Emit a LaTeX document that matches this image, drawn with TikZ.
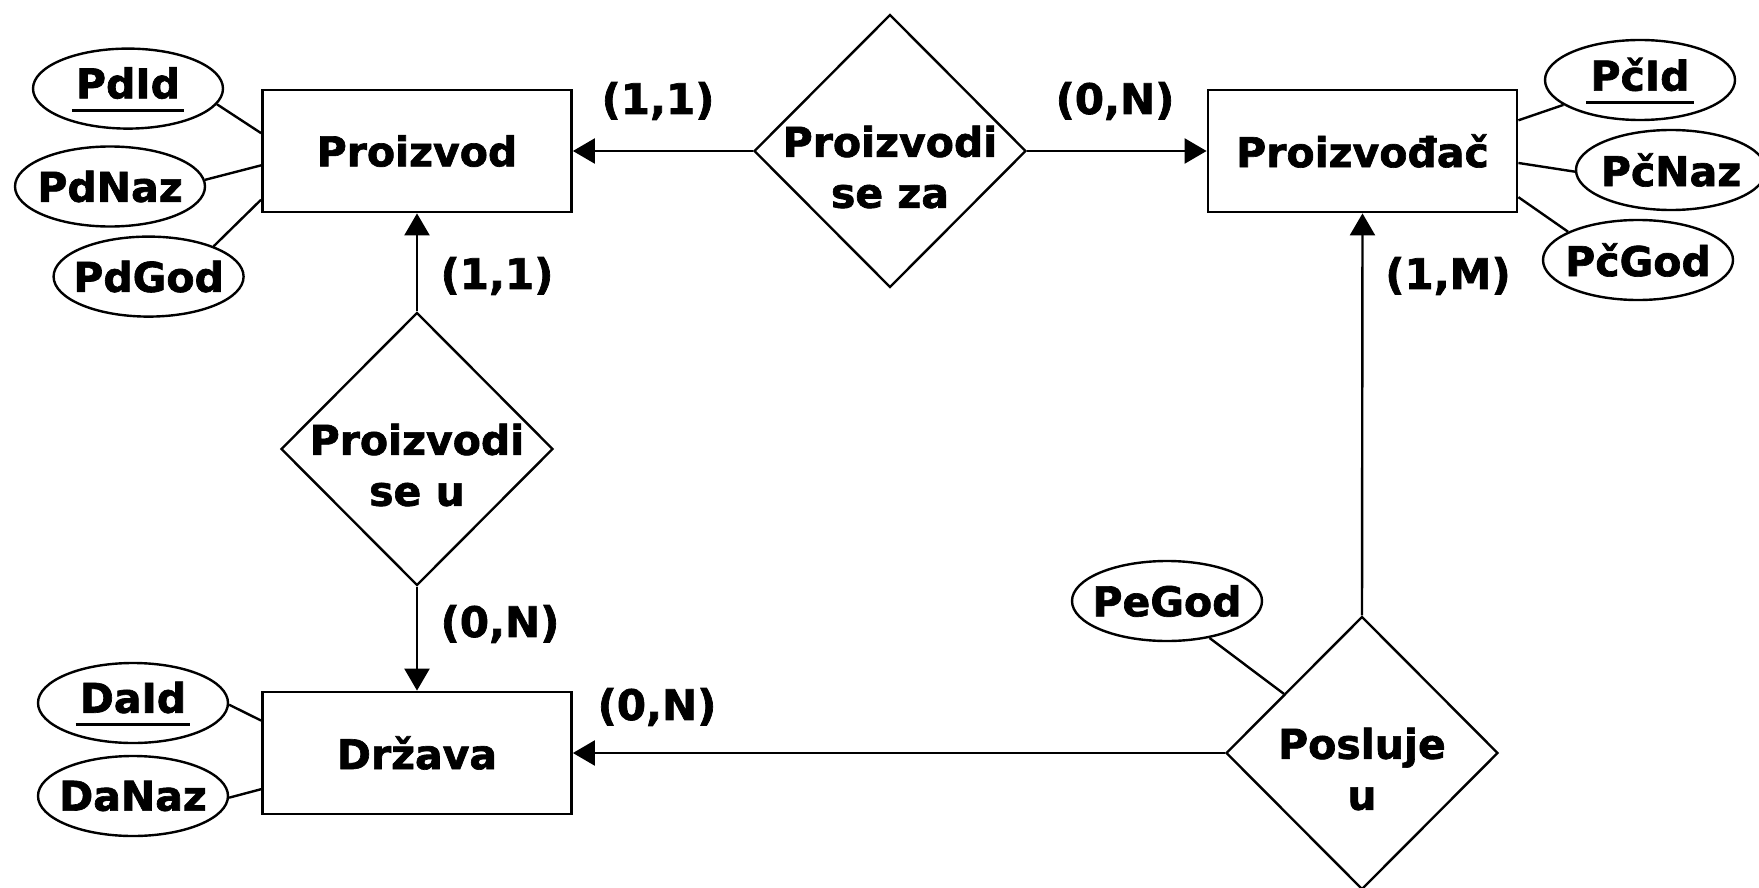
\documentclass[tikz,border=0pt]{standalone}
\usepackage{fontspec}
\setmainfont{DejaVu Sans}[BoldFeatures={FakeBold=1.6}]
\usetikzlibrary{shapes.geometric,arrows.meta,calc}
\begin{document}
\begin{tikzpicture}[x=1pt,y=-1pt,
  ent/.style={draw,line width=2.8pt,rectangle,minimum width=309pt,minimum height=122pt,inner sep=0pt,font=\bfseries\fontsize{41}{50}\selectfont},
  rel/.style={draw,line width=2.4pt,diamond,minimum width=272pt,minimum height=273pt,inner sep=0pt},
  reltxt/.style={align=center,inner sep=0pt,font=\bfseries\fontsize{41}{51}\selectfont,yshift=-16pt},
  attr/.style={draw,line width=2.4pt,ellipse,minimum width=190pt,minimum height=80pt,inner sep=0pt},
  atxt/.style={inner sep=0pt,font=\bfseries\fontsize{41}{50}\selectfont},
  keytxt/.style={atxt,yshift=5.5pt},
  card/.style={inner sep=0pt,font=\bfseries\fontsize{42}{50}\selectfont},
  conn/.style={line width=2.4pt,-{Triangle[length=22pt,width=25pt]}},
  link/.style={line width=2.4pt},
  uline/.style={line width=2.6pt}
]
\useasboundingbox (0,0) rectangle (1759,888);

% entities
\node[ent] (pd) at (417,151) {Proizvod};
\node[ent] (pc) at (1362.5,151) {Proizvođač};
\node[ent] (dr) at (417,753) {Država};

% relationships
\node[rel] (rza) at (890,151) {};
\node[reltxt] (rzat) at (rza) {Proizvodi\\se za};
\node[rel] (ru) at (417,449) {};
\node[reltxt] (rut) at (ru) {Proizvodi\\se u};
\node[rel] (rpu) at (1362,753) {};
\node[reltxt] (rput) at (rpu) {Posluje\\u};

% connectors
\draw[conn] (rza.west) -- (pd.east);
\draw[conn] (rza.east) -- (pc.west);
\draw[conn] (ru.north) -- (pd.south);
\draw[conn] (ru.south) -- (dr.north);
\draw[conn] (rpu.north) -- (pc.south);
\draw[conn] (rpu.west) -- (dr.east);

% cardinalities
\node[card] (c1) at (658,101) {(1,1)};
\node[card] (c2) at (1115,101) {(0,N)};
\node[card] (c3) at (497,276) {(1,1)};
\node[card] (c4) at (1448,276) {(1,M)};
\node[card] (c5) at (500,624) {(0,N)};
\node[card] (c6) at (657,707) {(0,N)};

% attributes of Proizvod
\node[attr] (pdid) at (128,88.6) {};
\node[keytxt] (pdidt) at (pdid) {PdId};
\draw[uline] ($(pdidt.base west)+(-4,12)$) -- ($(pdidt.base east)+(4,12)$);
\node[attr] (pdnaz) at (110,186.5) {};
\node[atxt] (pdnazt) at (pdnaz) {PdNaz};
\node[attr] (pdgod) at (148.6,276.6) {};
\node[atxt] (pdgodt) at (pdgod) {PdGod};
\draw[link] (pdid.-10.7) -- ($(pd.north west)!0.357!(pd.south west)$);
\draw[link] (pdnaz.4.2) -- ($(pd.north west)!0.615!(pd.south west)$);
\draw[link] (pdgod.25.6) -- ($(pd.north west)!0.89!(pd.south west)$);

% attributes of Proizvodjac
\node[attr] (pcid) at (1640,80) {};
\node[keytxt] (pcidt) at (pcid) {PčId};
\draw[uline] ($(pcidt.base west)+(-4,12)$) -- ($(pcidt.base east)+(4,12)$);
\node[attr] (pcnaz) at (1671,170) {};
\node[atxt] (pcnazt) at (pcnaz) {PčNaz};
\node[attr] (pcgod) at (1638,260) {};
\node[atxt] (pcgodt) at (pcgod) {PčGod};
\draw[link] (pcid.198) -- ($(pc.north east)!0.254!(pc.south east)$);
\draw[link] (pcnaz.181.7) -- ($(pc.north east)!0.596!(pc.south east)$);
\draw[link] (pcgod.158.2) -- ($(pc.north east)!0.87!(pc.south east)$);

% attributes of Drzava
\node[attr] (daid) at (133,703) {};
\node[keytxt] (daidt) at (daid) {DaId};
\draw[uline] ($(daidt.base west)+(-4,12)$) -- ($(daidt.base east)+(4,12)$);
\node[attr] (danaz) at (133,796) {};
\node[atxt] (danazt) at (danaz) {DaNaz};
\draw[link] (daid.-1.6) -- ($(dr.north west)!0.24!(dr.south west)$);
\draw[link] (danaz.-1) -- ($(dr.north west)!0.79!(dr.south west)$);

% attribute of Posluje u
\node[attr] (pegod) at (1167,601) {};
\node[atxt] (pegodt) at (pegod) {PeGod};
\draw[link] (pegod.-41.6) -- ($(rpu.west)!0.43!(rpu.north)$);
\end{tikzpicture}
\end{document}
